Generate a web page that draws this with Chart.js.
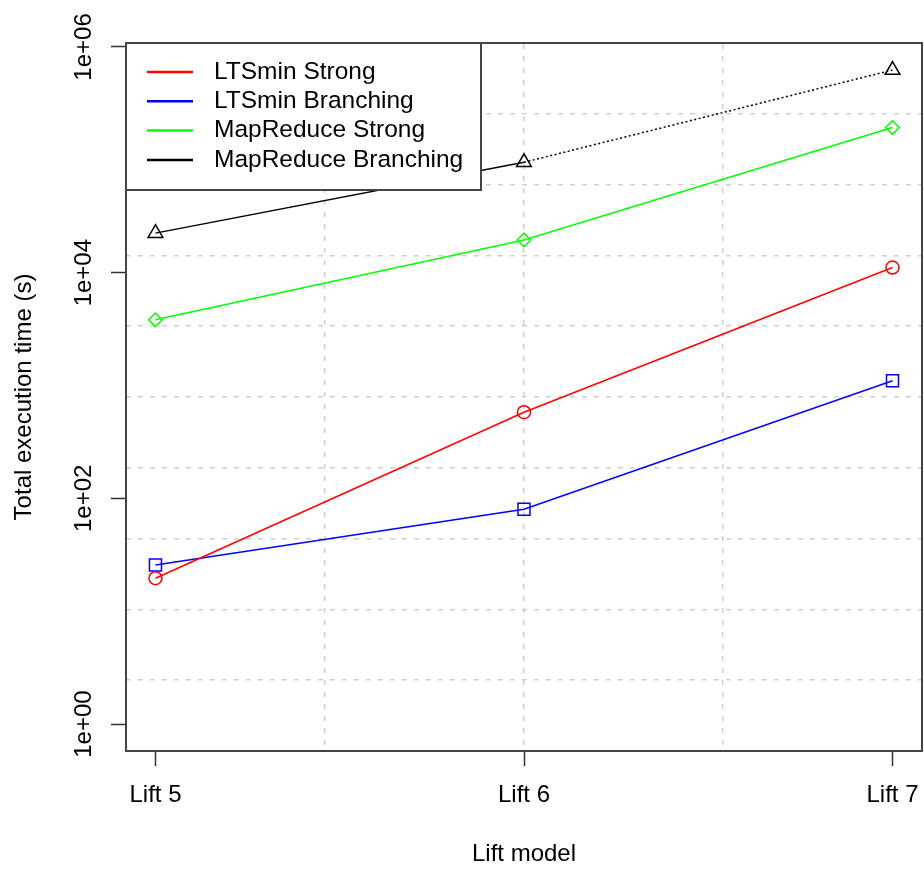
<!DOCTYPE html>
<html>
<head>
<meta charset="utf-8">
<script src="https://cdn.jsdelivr.net/npm/chart.js@4/dist/chart.umd.min.js"></script>
<style>
  html, body { margin: 0; padding: 0; background: #fff; }
  #chart { display: block; }
</style>
</head>
<body>
<canvas id="chart" width="924" height="869"></canvas>
<script>
// categories on the x axis
const categories = ['Lift 5', 'Lift 6', 'Lift 7'];

// total execution time in seconds, one value per lift model
const ltsminStrong = [19.6, 580, 11100];
const ltsminBranching = [25.7, 80, 1100];
const mapReduceStrong = [3820, 19500, 193000];
const mapReduceBranching = [22400, 95000, 624000];
// line style of each segment of the MapReduce Branching series
const mapReduceBranchingSegments = ['solid', 'dotted'];

// y tick values and labels
const yTickValues = [1, 100, 10000, 1000000];
const yTickLabels = ['1e+00', '1e+02', '1e+04', '1e+06'];

const FONT = '"Liberation Sans", Arial, sans-serif';

function toPoints(values) {
    return values.map((v, i) => ({ x: i + 1, y: v }));
}

// legend box drawn in the top left corner of the plot area
const legendBox = {
    id: 'legendBox',
    afterDraw(chart) {
        const { ctx, chartArea } = chart;
        const x0 = chartArea.left;
        const y0 = chartArea.top;
        ctx.save();
        ctx.fillStyle = '#fff';
        ctx.fillRect(x0, y0, 355, 147);
        ctx.strokeStyle = '#444';
        ctx.lineWidth = 2;
        ctx.strokeRect(x0, y0, 355, 147);
        ctx.font = '24.5px ' + FONT;
        ctx.textBaseline = 'middle';
        ctx.textAlign = 'left';
        chart.data.datasets.forEach((ds, i) => {
            const y = y0 + 29 + i * 29.3;
            ctx.strokeStyle = ds.borderColor;
            ctx.lineWidth = 2.5;
            ctx.beginPath();
            ctx.moveTo(x0 + 21, y);
            ctx.lineTo(x0 + 67, y);
            ctx.stroke();
            ctx.fillStyle = '#000';
            ctx.fillText(ds.label, x0 + 88, y);
        });
        ctx.restore();
    }
};

const gridDash = [5, 7];

new Chart(document.getElementById('chart'), {
    type: 'line',
    data: {
        datasets: [
            {
                label: 'LTSmin Strong',
                data: toPoints(ltsminStrong),
                borderColor: '#ff0000',
                backgroundColor: 'rgba(0,0,0,0)',
                borderWidth: 1.5,
                pointStyle: 'circle',
                pointRadius: 6.5,
                pointBorderWidth: 1.5
            },
            {
                label: 'LTSmin Branching',
                data: toPoints(ltsminBranching),
                borderColor: '#0000ff',
                backgroundColor: 'rgba(0,0,0,0)',
                borderWidth: 1.5,
                pointStyle: 'rect',
                pointRadius: 8.5,
                pointBorderWidth: 1.5
            },
            {
                label: 'MapReduce Strong',
                data: toPoints(mapReduceStrong),
                borderColor: '#00ff00',
                backgroundColor: 'rgba(0,0,0,0)',
                borderWidth: 1.5,
                pointStyle: 'rectRot',
                pointRadius: 6.8,
                pointBorderWidth: 1.5
            },
            {
                label: 'MapReduce Branching',
                data: toPoints(mapReduceBranching),
                borderColor: '#000000',
                backgroundColor: 'rgba(0,0,0,0)',
                borderWidth: 1.5,
                pointStyle: 'triangle',
                pointRadius: 8.5,
                pointBorderWidth: 1.5,
                segment: {
                    borderDash: ctx => mapReduceBranchingSegments[ctx.p0DataIndex] === 'dotted' ? [2, 2.5] : undefined
                }
            }
        ]
    },
    options: {
        responsive: false,
        animation: false,
        devicePixelRatio: 1,
        layout: { autoPadding: false, padding: { top: 43, right: 2, left: 0, bottom: 0 } },
        plugins: {
            legend: { display: false },
            tooltip: { enabled: false }
        },
        scales: {
            x: {
                type: 'linear',
                position: 'bottom',
                min: 0.92,
                max: 3.08,
                afterBuildTicks: scale => {
                    scale.ticks = categories.map((c, i) => ({ value: i + 1 }));
                },
                afterFit: scale => {
                    scale.height = 118;
                    scale.paddingLeft = 0;
                    scale.paddingRight = 0;
                },
                ticks: {
                    callback: v => categories[v - 1],
                    color: '#000',
                    font: { family: FONT, size: 24 },
                    padding: 15,
                    maxRotation: 0,
                    autoSkip: false
                },
                grid: {
                    drawOnChartArea: false,
                    tickLength: 15,
                    color: '#333',
                    tickWidth: 1.5
                },
                border: { display: true, color: '#444', width: 2 },
                title: {
                    display: true,
                    text: 'Lift model',
                    color: '#000',
                    font: { family: FONT, size: 24 },
                    padding: { top: 0, bottom: 0 }
                }
            },
            y: {
                type: 'logarithmic',
                position: 'left',
                min: 0.577,
                max: 1084000,
                afterBuildTicks: scale => {
                    scale.ticks = yTickValues.map(v => ({ value: v }));
                },
                afterFit: scale => {
                    scale.width = 126;
                    scale.paddingTop = 0;
                    scale.paddingBottom = 0;
                },
                ticks: {
                    callback: (v, i) => yTickLabels[i],
                    color: '#000',
                    font: { family: FONT, size: 24 },
                    minRotation: 90,
                    maxRotation: 90,
                    crossAlign: 'center',
                    padding: -7,
                    autoSkip: false
                },
                grid: {
                    drawOnChartArea: false,
                    tickLength: 15,
                    color: '#333',
                    tickWidth: 1.5
                },
                border: { display: true, color: '#444', width: 2 },
                title: {
                    display: true,
                    text: 'Total execution time (s)',
                    color: '#000',
                    font: { family: FONT, size: 24 },
                    padding: { top: 10, bottom: 0 }
                }
            },
            xg: {
                type: 'linear',
                position: 'top',
                min: 0,
                max: 4,
                afterBuildTicks: scale => {
                    scale.ticks = [1, 2, 3].map(v => ({ value: v }));
                },
                afterFit: scale => { scale.height = 0; },
                ticks: { display: false },
                grid: { color: '#cfcfcf', lineWidth: 1.5, drawTicks: false },
                border: { display: true, color: '#444', width: 2, dash: gridDash }
            },
            yg: {
                type: 'linear',
                position: 'right',
                min: 0,
                max: 10,
                afterBuildTicks: scale => {
                    scale.ticks = [1, 2, 3, 4, 5, 6, 7, 8, 9].map(v => ({ value: v }));
                },
                afterFit: scale => { scale.width = 0; },
                ticks: { display: false },
                grid: { color: '#cfcfcf', lineWidth: 1.5, drawTicks: false },
                border: { display: true, color: '#444', width: 2, dash: gridDash }
            }
        }
    },
    plugins: [legendBox]
});
</script>
</body>
</html>
